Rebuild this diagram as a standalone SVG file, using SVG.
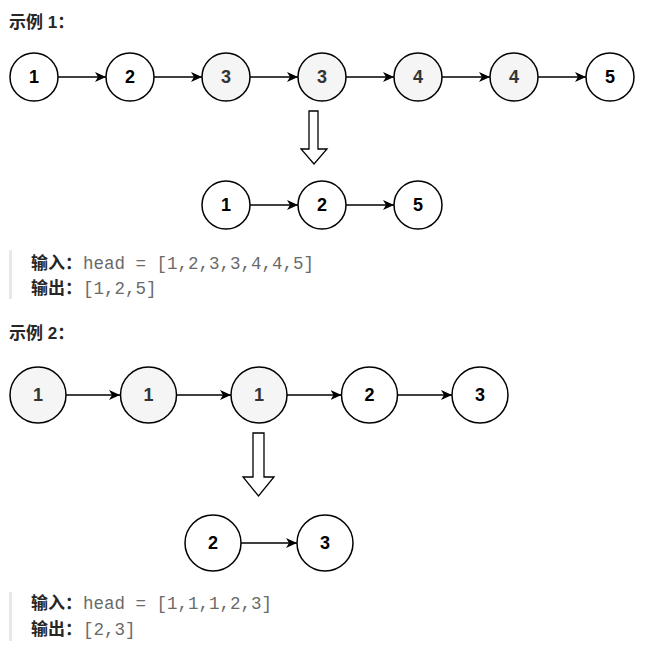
<svg xmlns="http://www.w3.org/2000/svg" width="655" height="663" viewBox="0 0 655 663">
<style>
.n{stroke:#000;stroke-width:1.5;fill:#fff}
.g{fill:#f5f5f5}
.t{font-family:"Liberation Sans",Arial,sans-serif;font-weight:bold;font-size:18px;text-anchor:middle;dominant-baseline:central;fill:#000}
.tg{fill:#333}
.c{stroke:#000;stroke-width:1.5;fill:none;marker-end:url(#ah)}
.da{fill:#fff;stroke:#000;stroke-width:1.3}
.h{font-family:"Liberation Sans","Noto Sans CJK SC",sans-serif;font-weight:bold;font-size:17px;fill:#262626}
.code{font-family:"Liberation Mono","DejaVu Sans Mono",monospace;font-size:17.5px;fill:#6a6a6a}
.bar{fill:#e8e8e8}
</style>
<defs>
<marker id="ah" markerUnits="userSpaceOnUse" markerWidth="13" markerHeight="11" refX="11" refY="5" orient="auto">
<path d="M0,0 L11,5 L0,10 L3,5 z" fill="#000"/>
</marker>
</defs>
<rect fill="#fff" width="655" height="663"/>

<text id="title1" class="h" x="9" y="28">示例 1：</text>

<g id="connectors">
<line class="c" x1="58" y1="77" x2="106" y2="77"/>
<line class="c" x1="154" y1="77" x2="202" y2="77"/>
<line class="c" x1="250" y1="77" x2="298" y2="77"/>
<line class="c" x1="346" y1="77" x2="394" y2="77"/>
<line class="c" x1="442" y1="77" x2="490" y2="77"/>
<line class="c" x1="538" y1="77" x2="586" y2="77"/>
<line class="c" x1="250" y1="205" x2="298" y2="205"/>
<line class="c" x1="346" y1="205" x2="394" y2="205"/>
<line class="c" x1="66" y1="395" x2="120" y2="395"/>
<line class="c" x1="176.5" y1="395" x2="231" y2="395"/>
<line class="c" x1="287" y1="395" x2="341.5" y2="395"/>
<line class="c" x1="397.5" y1="395" x2="452" y2="395"/>
<line class="c" x1="241" y1="543" x2="297" y2="543"/>
<polygon class="da" points="309,111 318,111 318,149 327,149 314,164 301,149 309,149"/>
<polygon class="da" points="253,433 264,433 264,477 274,477 258.5,496 243,477 253,477"/>
</g>

<g id="e1n1"><circle class="n" cx="34" cy="77" r="24"/><text class="t" x="34" y="77">1</text></g>
<g id="e1n2"><circle class="n" cx="130" cy="77" r="24"/><text class="t" x="130" y="77">2</text></g>
<g id="e1n3"><circle class="n g" cx="226" cy="77" r="24"/><text class="t tg" x="226" y="77">3</text></g>
<g id="e1n4"><circle class="n g" cx="322" cy="77" r="24"/><text class="t tg" x="322" y="77">3</text></g>
<g id="e1n5"><circle class="n g" cx="418" cy="77" r="24"/><text class="t tg" x="418" y="77">4</text></g>
<g id="e1n6"><circle class="n g" cx="514" cy="77" r="24"/><text class="t tg" x="514" y="77">4</text></g>
<g id="e1n7"><circle class="n" cx="610" cy="77" r="24"/><text class="t" x="610" y="77">5</text></g>

<g id="e1r1"><circle class="n" cx="226" cy="205" r="24"/><text class="t" x="226" y="205">1</text></g>
<g id="e1r2"><circle class="n" cx="322" cy="205" r="24"/><text class="t" x="322" y="205">2</text></g>
<g id="e1r3"><circle class="n" cx="418" cy="205" r="24"/><text class="t" x="418" y="205">5</text></g>

<g id="io1">
<rect class="bar" x="9" y="250" width="3" height="49"/>
<text class="h" x="31" y="269">输入：</text><text class="code" x="83" y="269">head = [1,2,3,3,4,4,5]</text>
<text class="h" x="31" y="294">输出：</text><text class="code" x="83" y="294">[1,2,5]</text>
</g>

<text id="title2" class="h" x="9" y="339">示例 2：</text>

<g id="e2n1"><circle class="n g" cx="38" cy="395" r="28"/><text class="t tg" x="38" y="395">1</text></g>
<g id="e2n2"><circle class="n g" cx="148.5" cy="395" r="28"/><text class="t tg" x="148.5" y="395">1</text></g>
<g id="e2n3"><circle class="n g" cx="259" cy="395" r="28"/><text class="t tg" x="259" y="395">1</text></g>
<g id="e2n4"><circle class="n" cx="369.5" cy="395" r="28"/><text class="t" x="369.5" y="395">2</text></g>
<g id="e2n5"><circle class="n" cx="480" cy="395" r="28"/><text class="t" x="480" y="395">3</text></g>

<g id="e2r1"><circle class="n" cx="213" cy="543" r="28"/><text class="t" x="213" y="543">2</text></g>
<g id="e2r2"><circle class="n" cx="325" cy="543" r="28"/><text class="t" x="325" y="543">3</text></g>

<g id="io2">
<rect class="bar" x="9" y="592" width="3" height="49"/>
<text class="h" x="31" y="609">输入：</text><text class="code" x="83" y="609">head = [1,1,1,2,3]</text>
<text class="h" x="31" y="635">输出：</text><text class="code" x="83" y="635">[2,3]</text>
</g>
</svg>
